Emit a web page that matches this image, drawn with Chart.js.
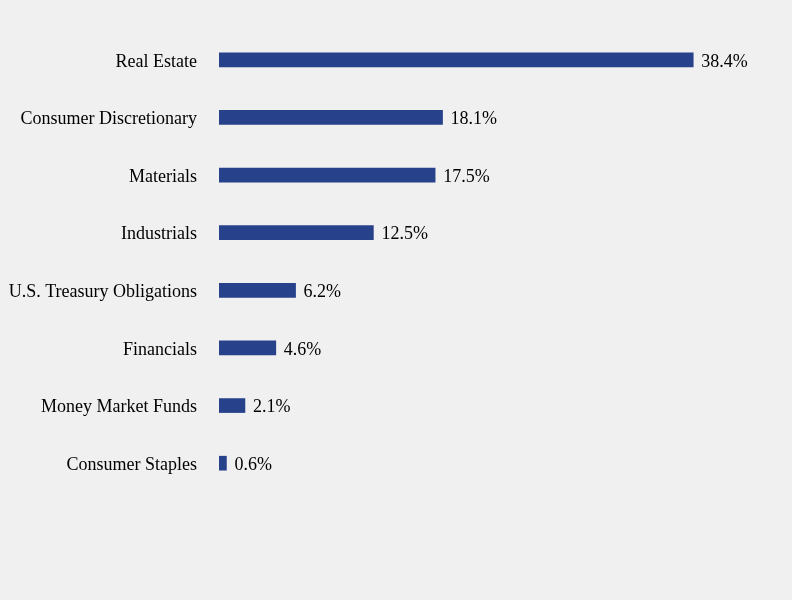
<!DOCTYPE html>
<html>
<head>
<meta charset="utf-8">
<script src="https://cdn.jsdelivr.net/npm/chart.js@4"></script>
<style>
  html, body { margin: 0; padding: 0; background: #f0f0f0; }
  #wrap { width: 792px; height: 600px; }
</style>
</head>
<body>
<div id="wrap"><canvas id="graph"></canvas></div>
<script>
const secteurs = ['Real Estate', 'Consumer Discretionary', 'Materials', 'Industrials',
  'U.S. Treasury Obligations', 'Financials', 'Money Market Funds', 'Consumer Staples'];
const poids = [38.4, 18.1, 17.5, 12.5, 6.2, 4.6, 2.1, 0.6];

// étiquettes de valeur au bout des barres
const valeurs = {
  id: 'valeurs',
  afterDatasetsDraw(chart) {
    const ctx = chart.ctx;
    const meta = chart.getDatasetMeta(0);
    ctx.save();
    ctx.font = '18px "Liberation Serif", "Times New Roman", serif';
    ctx.fillStyle = '#000';
    ctx.textAlign = 'left';
    ctx.textBaseline = 'middle';
    meta.data.forEach((bar, i) => {
      ctx.fillText(poids[i].toFixed(1) + '%', bar.x + 8, bar.y + 2);
    });
    ctx.restore();
  }
};

const ctx = document.getElementById('graph').getContext('2d');
new Chart(ctx, {
  type: 'bar',
  data: {
    labels: secteurs,
    datasets: [{
      data: poids,
      backgroundColor: '#27418b',
      borderWidth: 0,
      barThickness: 14
    }]
  },
  options: {
    indexAxis: 'y',
    responsive: true,
    maintainAspectRatio: false,
    animation: false,
    layout: { padding: { top: 31, bottom: 108, left: 0, right: 79 } },
    scales: {
      x: { display: false, min: 0, max: 40 },
      y: {
        grid: { display: false },
        border: { display: false },
        afterFit(axis) { axis.width = 219; },
        ticks: {
          padding: 14,
          labelOffset: 2,
          color: '#000',
          font: { family: '"Liberation Serif", "Times New Roman", serif', size: 18 }
        }
      }
    },
    plugins: {
      legend: { display: false },
      tooltip: { enabled: false }
    }
  },
  plugins: [valeurs]
});
</script>
</body>
</html>
